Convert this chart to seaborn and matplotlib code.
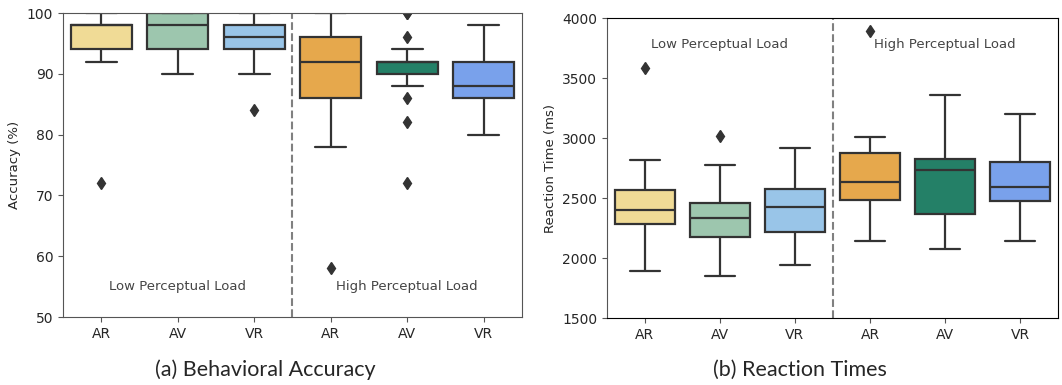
import numpy as np
import pandas as pd
import matplotlib
matplotlib.use("Agg")
import matplotlib.pyplot as plt
import seaborn as sns

# condition keys and tick labels
conditions = ["Low-AR", "Low-AV", "Low-VR", "High-AR", "High-AV", "High-VR"]
tick_labels = ["AR", "AV", "VR", "AR", "AV", "VR"]
colors = ["#F0DB96", "#9DC6AE", "#99C5E8", "#E6A84C", "#248067", "#79A1EB"]

# accuracy (%) per participant
acc_low_ar = [72, 92, 94, 94, 94, 96, 96, 98, 98, 98, 98, 98, 98, 100, 100, 100, 100]
acc_low_av = [90, 92, 94, 94, 94, 96, 96, 98, 98, 98, 100, 100, 100, 100, 100, 100, 100]
acc_low_vr = [84, 90, 92, 94, 94, 94, 96, 96, 96, 96, 98, 98, 98, 98, 100, 100, 100]
acc_high_ar = [58, 78, 82, 84, 86, 88, 90, 92, 92, 94, 94, 96, 96, 98, 100, 100, 100]
acc_high_av = [72, 82, 86, 88, 90, 90, 90, 92, 92, 92, 92, 92, 92, 94, 96, 100, 100]
acc_high_vr = [80, 82, 84, 86, 86, 86, 88, 88, 88, 90, 90, 92, 92, 94, 96, 98, 98]

# reaction times (ms) per participant
rt_low_ar = [1892, 2050, 2160, 2230, 2281, 2310, 2345, 2380, 2402, 2440, 2480, 2530, 2567, 2620, 2700, 2815, 3585]
rt_low_av = [1850, 1990, 2080, 2140, 2178, 2210, 2260, 2300, 2331, 2360, 2395, 2430, 2461, 2540, 2650, 2775, 3020]
rt_low_vr = [1939, 2030, 2110, 2170, 2219, 2270, 2330, 2380, 2425, 2460, 2500, 2540, 2578, 2650, 2760, 2850, 2917]
rt_high_ar = [2139, 2260, 2380, 2440, 2483, 2530, 2570, 2600, 2636, 2690, 2750, 2820, 2875, 2920, 2960, 3008, 3892]
rt_high_av = [2072, 2180, 2250, 2310, 2369, 2450, 2560, 2660, 2736, 2760, 2790, 2805, 2822, 2950, 3100, 3250, 3361]
rt_high_vr = [2142, 2260, 2360, 2420, 2475, 2510, 2540, 2570, 2594, 2630, 2680, 2740, 2800, 2900, 3000, 3100, 3200]

acc_lists = [acc_low_ar, acc_low_av, acc_low_vr, acc_high_ar, acc_high_av, acc_high_vr]
rt_lists = [rt_low_ar, rt_low_av, rt_low_vr, rt_high_ar, rt_high_av, rt_high_vr]


def long_df(lists):
    rows = []
    for c, vals in zip(conditions, lists):
        for v in vals:
            rows.append((c, v))
    return pd.DataFrame(rows, columns=["cond", "value"])


df_acc = long_df(acc_lists)
df_rt = long_df(rt_lists)

sns.set_style("ticks")
plt.rcParams['font.family'] = ['DejaVu Sans']

fig = plt.figure(figsize=(10.62, 3.85), dpi=100)
ax1 = fig.add_axes([0.0593, 0.1766, 0.4322, 0.7896])
ax2 = fig.add_axes([0.5716, 0.174, 0.4246, 0.7792])

flier = dict(marker="d", markerfacecolor="#333333", markeredgecolor="#333333", markersize=6)


def draw(ax, df):
    sns.boxplot(data=df, x="cond", y="value", hue="cond", order=conditions,
                hue_order=conditions, palette=colors, saturation=1, legend=False,
                linecolor="#333333", linewidth=1.6, width=0.8,
                flierprops=flier, ax=ax)
    ax.set_xticks(range(6))
    ax.set_xticklabels(tick_labels, fontsize=10)
    ax.set_xlabel("")
    ax.axvline(2.5, color="grey", linestyle="--", linewidth=1.5)
    ax.set_xlim(-0.5, 5.5)
    ax.tick_params(labelsize=10, color="#555555")
    for s in ax.spines.values():
        s.set_color("#555555")
        s.set_visible(True)


draw(ax1, df_acc)
ax1.set_ylim(50, 100)
ax1.set_yticks([50, 60, 70, 80, 90, 100])
ax1.set_ylabel("Accuracy (%)", fontsize=9.5)
ax1.text(1, 55, "Low Perceptual Load", ha="center", va="center", fontsize=9.5, color="#444444")
ax1.text(4, 55, "High Perceptual Load", ha="center", va="center", fontsize=9.5, color="#444444")

draw(ax2, df_rt)
ax2.set_ylim(1500, 4000)
ax2.set_yticks([1500, 2000, 2500, 3000, 3500, 4000])
ax2.set_ylabel("Reaction Time (ms)", fontsize=9.5)
ax2.spines["bottom"].set_color("black")
ax2.spines["top"].set_color("black")
ax2.spines["right"].set_color("black")
ax2.text(1, 3780, "Low Perceptual Load", ha="center", va="center", fontsize=9.5, color="#444444")
ax2.text(4, 3780, "High Perceptual Load", ha="center", va="center", fontsize=9.5, color="#444444")

fig.text(0.2495, 0.04, "(a) Behavioral Accuracy", ha="center", va="center", fontsize=15.5, family="Lato")
fig.text(0.7533, 0.04, "(b) Reaction Times", ha="center", va="center", fontsize=15.5, family="Lato")

fig.savefig("out.png", dpi=100)
